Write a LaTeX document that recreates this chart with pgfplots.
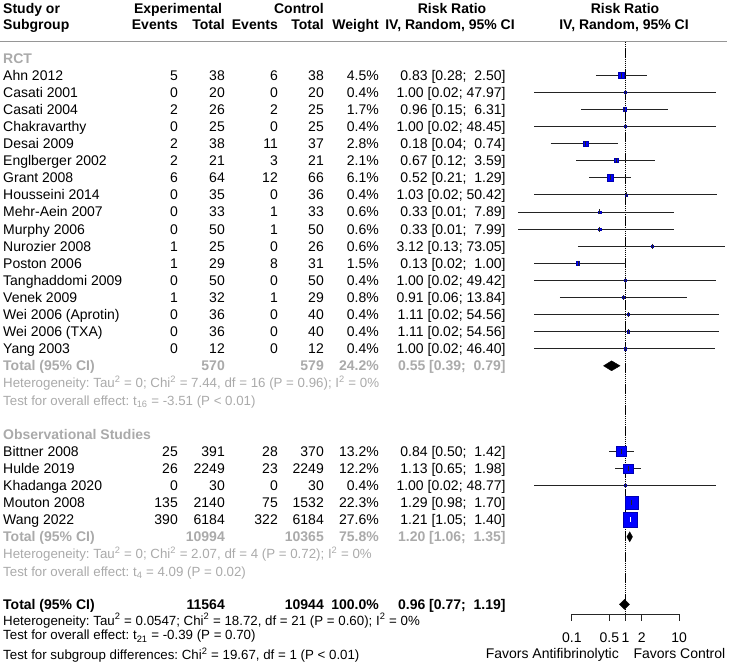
\documentclass[border=0pt]{standalone}
\usepackage{pgfplots}
\usepackage{pgfplotstable}
\pgfplotsset{compat=1.18}
\usepackage{fontspec}
\setmainfont{Liberation Sans}

\definecolor{subgrp}{RGB}{170,170,170}
\definecolor{rulegray}{RGB}{150,150,150}
\definecolor{sqblue}{RGB}{0,0,255}
\definecolor{ciline}{RGB}{35,35,35}

% study results: row, risk ratio, 95% CI, weight (%)
\pgfplotstableread{
r  rr   lo   hi    w
1  0.83 0.28 2.50  4.5
2  1.00 0.02 47.97 0.4
3  0.96 0.15 6.31  1.7
4  1.00 0.02 48.45 0.4
5  0.18 0.04 0.74  2.8
6  0.67 0.12 3.59  2.1
7  0.52 0.21 1.29  6.1
8  1.03 0.02 50.42 0.4
9  0.33 0.01 7.89  0.6
10 0.33 0.01 7.99  0.6
11 3.12 0.13 73.05 0.6
12 0.13 0.02 1.00  1.5
13 1.00 0.02 49.42 0.4
14 0.91 0.06 13.84 0.8
15 1.11 0.02 54.56 0.4
16 1.11 0.02 54.56 0.4
17 1.00 0.02 46.40 0.4
23 0.84 0.50 1.42  13.2
24 1.13 0.65 1.98  12.2
25 1.00 0.02 48.77 0.4
26 1.29 0.98 1.70  22.3
27 1.21 1.05 1.40  27.6
}\studies

\tikzset{
  lft/.style={anchor=base west, inner sep=0pt, yshift=-5pt},
  rgt/.style={anchor=base east, inner sep=0pt, yshift=-5pt},
  ctr/.style={anchor=base, inner sep=0pt, yshift=-5pt},
  note/.style={lft, font=\fontsize{13.3pt}{16pt}\selectfont},
}

% one line of the table: [style]{row}{study}{exp events}{exp total}{ctl events}{ctl total}{weight}{RR [CI]}
\newcommand{\studyrow}[9][]{%
  \node[lft,#1] at (axis cs:3,#2) {#3};
  \node[rgt,#1] at (axis cs:178,#2) {#4};
  \node[rgt,#1] at (axis cs:225,#2) {#5};
  \node[rgt,#1] at (axis cs:278,#2) {#6};
  \node[rgt,#1] at (axis cs:324,#2) {#7};
  \node[rgt,#1] at (axis cs:379,#2) {#8};
  \node[rgt,#1] at (axis cs:505.7,#2) {#9};}

% confidence interval segment: {row}{lower}{upper}
\newcommand{\ci}[3]{\addplot[ciline, line width=0.8pt] coordinates {(#2,#1) (#3,#1)};}

\begin{document}
\fontsize{14pt}{17pt}\selectfont\frenchspacing
\begin{tikzpicture}
\path[use as bounding box] (0,0) rectangle (729pt,667pt);

% ---------------- table part ----------------
\begin{axis}[at={(0pt,0pt)}, anchor=south west, scale only axis,
  width=729pt, height=667pt, xmin=0, xmax=729, ymin=-3.3918, ymax=35.614,
  y dir=reverse, hide axis, clip=false]

  % column headings
  \node[lft,font=\bfseries] at (axis cs:3,-2.906) {Study or};
  \node[ctr,font=\bfseries] at (axis cs:178,-2.906) {Experimental};
  \node[ctr,font=\bfseries] at (axis cs:299,-2.906) {Control};
  \node[ctr,font=\bfseries] at (axis cs:452,-2.906) {Risk Ratio};
  \node[ctr,font=\bfseries] at (axis cs:625,-2.906) {Risk Ratio};
  \node[lft,font=\bfseries] at (axis cs:3,-1.93) {Subgroup};
  \node[rgt,font=\bfseries] at (axis cs:178,-1.93) {Events};
  \node[rgt,font=\bfseries] at (axis cs:225,-1.93) {Total};
  \node[rgt,font=\bfseries] at (axis cs:278,-1.93) {Events};
  \node[rgt,font=\bfseries] at (axis cs:324,-1.93) {Total};
  \node[rgt,font=\bfseries] at (axis cs:379,-1.93) {Weight};
  \node[ctr,font=\bfseries] at (axis cs:450,-1.93) {IV, Random, 95\% CI};
  \node[ctr,font=\bfseries] at (axis cs:624,-1.93) {IV, Random, 95\% CI};
  \draw[rulegray, line width=1.5pt] (axis cs:0,-0.953) -- (axis cs:727,-0.953);

  % randomised trials
  \node[lft,font=\bfseries,text=subgrp] at (axis cs:3,0) {RCT};
  \studyrow{1}{Ahn 2012}{5}{38}{6}{38}{4.5\%}{0.83 [0.28;\ \ 2.50]}
  \studyrow{2}{Casati 2001}{0}{20}{0}{20}{0.4\%}{1.00 [0.02; 47.97]}
  \studyrow{3}{Casati 2004}{2}{26}{2}{25}{1.7\%}{0.96 [0.15;\ \ 6.31]}
  \studyrow{4}{Chakravarthy}{0}{25}{0}{25}{0.4\%}{1.00 [0.02; 48.45]}
  \studyrow{5}{Desai 2009}{2}{38}{11}{37}{2.8\%}{0.18 [0.04;\ \ 0.74]}
  \studyrow{6}{Englberger 2002}{2}{21}{3}{21}{2.1\%}{0.67 [0.12;\ \ 3.59]}
  \studyrow{7}{Grant 2008}{6}{64}{12}{66}{6.1\%}{0.52 [0.21;\ \ 1.29]}
  \studyrow{8}{Housseini 2014}{0}{35}{0}{36}{0.4\%}{1.03 [0.02; 50.42]}
  \studyrow{9}{Mehr-Aein 2007}{0}{33}{1}{33}{0.6\%}{0.33 [0.01;\ \ 7.89]}
  \studyrow{10}{Murphy 2006}{0}{50}{1}{50}{0.6\%}{0.33 [0.01;\ \ 7.99]}
  \studyrow{11}{Nurozier 2008}{1}{25}{0}{26}{0.6\%}{3.12 [0.13; 73.05]}
  \studyrow{12}{Poston 2006}{1}{29}{8}{31}{1.5\%}{0.13 [0.02;\ \ 1.00]}
  \studyrow{13}{Tanghaddomi 2009}{0}{50}{0}{50}{0.4\%}{1.00 [0.02; 49.42]}
  \studyrow{14}{Venek 2009}{1}{32}{1}{29}{0.8\%}{0.91 [0.06; 13.84]}
  \studyrow{15}{Wei 2006 (Aprotin)}{0}{36}{0}{40}{0.4\%}{1.11 [0.02; 54.56]}
  \studyrow{16}{Wei 2006 (TXA)}{0}{36}{0}{40}{0.4\%}{1.11 [0.02; 54.56]}
  \studyrow{17}{Yang 2003}{0}{12}{0}{12}{0.4\%}{1.00 [0.02; 46.40]}
  \studyrow[text=subgrp,font=\bfseries]{18}{Total (95\% CI)}{}{570}{}{579}{24.2\%}{0.55 [0.39;\ \ 0.79]}
  \node[note,text=subgrp] at (axis cs:3,19) {Heterogeneity: Tau\textsuperscript{2} = 0; Chi\textsuperscript{2} = 7.44, df = 16 (P = 0.96); I\textsuperscript{2} = 0\%};
  \node[note,text=subgrp] at (axis cs:3,20) {Test for overall effect: t\textsubscript{16} = -3.51 (P < 0.01)};

  % observational studies
  \node[lft,font=\bfseries,text=subgrp] at (axis cs:3,22) {Observational Studies};
  \studyrow{23}{Bittner 2008}{25}{391}{28}{370}{13.2\%}{0.84 [0.50;\ \ 1.42]}
  \studyrow{24}{Hulde 2019}{26}{2249}{23}{2249}{12.2\%}{1.13 [0.65;\ \ 1.98]}
  \studyrow{25}{Khadanga 2020}{0}{30}{0}{30}{0.4\%}{1.00 [0.02; 48.77]}
  \studyrow{26}{Mouton 2008}{135}{2140}{75}{1532}{22.3\%}{1.29 [0.98;\ \ 1.70]}
  \studyrow{27}{Wang 2022}{390}{6184}{322}{6184}{27.6\%}{1.21 [1.05;\ \ 1.40]}
  \studyrow[text=subgrp,font=\bfseries]{28}{Total (95\% CI)}{}{10994}{}{10365}{75.8\%}{1.20 [1.06;\ \ 1.35]}
  \node[note,text=subgrp] at (axis cs:3,29) {Heterogeneity: Tau\textsuperscript{2} = 0; Chi\textsuperscript{2} = 2.07, df = 4 (P = 0.72); I\textsuperscript{2} = 0\%};
  \node[note,text=subgrp] at (axis cs:3,30) {Test for overall effect: t\textsubscript{4} = 4.09 (P = 0.02)};

  % overall
  \studyrow[font=\bfseries]{31.95}{Total (95\% CI)}{}{11564}{}{10944}{100.0\%}{0.96 [0.77;\ \ 1.19]}
  \node[note] at (axis cs:3,32.87) {Heterogeneity: Tau\textsuperscript{2} = 0.0547; Chi\textsuperscript{2} = 18.72, df = 21 (P = 0.60); I\textsuperscript{2} = 0\%};
  \node[note] at (axis cs:3,33.74) {Test for overall effect: t\textsubscript{21} = -0.39 (P = 0.70)};
  \node[note] at (axis cs:3,34.91) {Test for subgroup differences: Chi\textsuperscript{2} = 19.67, df = 1 (P < 0.01)};

  % direction labels under the scale
  \node[rgt] at (axis cs:619,34.83) {Favors Antifibrinolytic};
  \node[lft] at (axis cs:633.3,34.83) {Favors Control};
\end{axis}

% ---------------- forest part (log risk ratio) ----------------
\begin{axis}[at={(518.2pt,0pt)}, anchor=south west, scale only axis,
  width=198.45pt, height=667pt, xmode=log, xmin=0.01, xmax=50,
  ymin=-3.3918, ymax=35.614, y dir=reverse, hide axis, clip=false]

  % line of no effect
  \draw[black, line width=0.9pt, dash pattern=on 1.5pt off 0.6pt] (axis cs:1,-0.953) -- (axis cs:1,32.53);

  % study squares, area proportional to weight
  \addplot[scatter, only marks, mark=square*,
    scatter/use mapped color={draw=sqblue!70!black, fill=sqblue},
    visualization depends on={max(1.335*sqrt(\thisrow{w}),1.1) \as \msz},
    scatter/@pre marker code/.append style={/tikz/mark size=\msz}]
    table[x=rr, y=r] \studies;

  % confidence intervals
  \ci{1}{0.28}{2.50}
  \ci{2}{0.02}{47.97}
  \ci{3}{0.15}{6.31}
  \ci{4}{0.02}{48.45}
  \ci{5}{0.04}{0.74}
  \ci{6}{0.12}{3.59}
  \ci{7}{0.21}{1.29}
  \ci{8}{0.02}{50.42}
  \ci{9}{0.01}{7.89}
  \ci{10}{0.01}{7.99}
  \ci{11}{0.13}{73.05}
  \ci{12}{0.02}{1.00}
  \ci{13}{0.02}{49.42}
  \ci{14}{0.06}{13.84}
  \ci{15}{0.02}{54.56}
  \ci{16}{0.02}{54.56}
  \ci{17}{0.02}{46.40}
  \ci{23}{0.50}{1.42}
  \ci{24}{0.65}{1.98}
  \ci{25}{0.02}{48.77}
  \ci{26}{0.98}{1.70}
  \addplot[only marks, mark=|, mark size=2.5pt, ciline, mark options={line width=0.8pt}]
    table[x=rr, y=r] \studies;
  % interval lying inside its square
  \addplot[white, line width=0.8pt] coordinates {(1.05,27) (1.40,27)};
  \addplot[only marks, mark=|, mark size=2.5pt, white, mark options={line width=0.8pt}]
    coordinates {(1.21,27)};

  % pooled estimates
  \addplot[fill=black, draw=black] coordinates {(0.39,18) (0.55,17.71) (0.79,18) (0.55,18.29)} -- cycle;
  \addplot[fill=black, draw=black] coordinates {(1.06,28) (1.20,27.71) (1.35,28) (1.20,28.29)} -- cycle;
  \addplot[fill=black, draw=black] coordinates {(0.77,31.95) (0.96,31.66) (1.19,31.95) (0.96,32.24)} -- cycle;

  % scale
  \draw[black!85, line width=0.8pt] (axis cs:0.1,32.53) -- (axis cs:10,32.53);
  \pgfplotsinvokeforeach{0.1,0.5,1,2,10}{
    \draw[black!85, line width=0.8pt] (axis cs:#1,32.53) -- (axis cs:#1,32.9);
    \node[ctr] at (axis cs:#1,33.86) {#1};
  }
\end{axis}
\end{tikzpicture}
\end{document}
